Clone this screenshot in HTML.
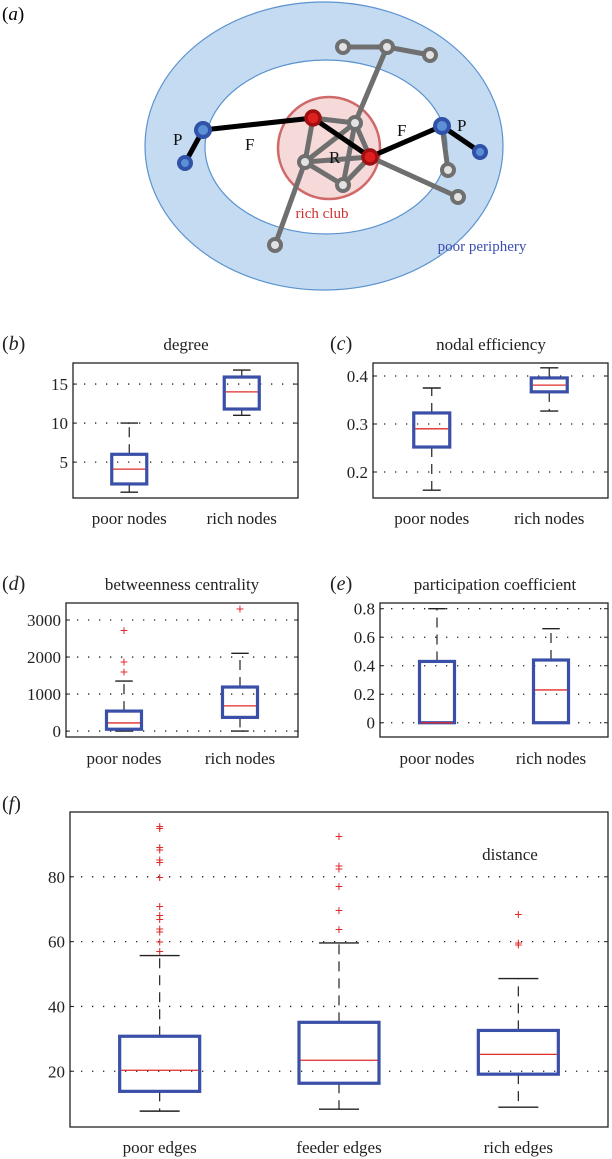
<!DOCTYPE html>
<html><head><meta charset="utf-8"><style>
html,body{margin:0;padding:0;background:#fff;}
svg{display:block;font-family:"Liberation Serif",serif;}
</style></head><body>
<svg id="fig" width="612" height="1159" viewBox="0 0 612 1159" xmlns="http://www.w3.org/2000/svg">
<g>
<text x="2" y="20" font-size="19">(<tspan font-style="italic">a</tspan>)</text>
<ellipse cx="324" cy="146" rx="179" ry="144" fill="#c5dbf1" stroke="#5b93cf" stroke-width="1.2"/>
<ellipse cx="326" cy="147" rx="121" ry="87" fill="#fff" stroke="#5b93cf" stroke-width="1.2"/>
<circle cx="329" cy="148" r="51" fill="#f6dada" stroke="#d06a6a" stroke-width="2.5"/>
<g stroke="#6f6f6f" stroke-width="5" stroke-linecap="round" fill="none">
<line x1="343" y1="47" x2="387" y2="47"/><line x1="387" y1="47" x2="430" y2="55"/><line x1="387" y1="47" x2="355" y2="123"/>
<line x1="313" y1="118" x2="355" y2="123"/><line x1="313" y1="118" x2="305" y2="162"/><line x1="305" y1="162" x2="355" y2="123"/>
<line x1="305" y1="162" x2="370" y2="157"/><line x1="305" y1="162" x2="343" y2="185"/><line x1="343" y1="185" x2="355" y2="123"/>
<line x1="343" y1="185" x2="370" y2="157"/><line x1="355" y1="123" x2="370" y2="157"/><line x1="305" y1="162" x2="275" y2="245"/>
<line x1="370" y1="157" x2="458" y2="197"/><line x1="442" y1="126" x2="448" y2="170"/>
</g>
<g stroke="#000" stroke-width="5" stroke-linecap="round">
<line x1="203" y1="130" x2="313" y2="118"/><line x1="203" y1="130" x2="185" y2="163"/><line x1="313" y1="118" x2="370" y2="157"/>
<line x1="370" y1="157" x2="442" y2="126"/><line x1="442" y1="126" x2="480" y2="152"/>
</g>
<g stroke="#6f6f6f" stroke-width="4" fill="#e2e2e2">
<circle cx="343" cy="47" r="6"/><circle cx="387" cy="47" r="6"/><circle cx="430" cy="55" r="6"/><circle cx="355" cy="123" r="6"/>
<circle cx="305" cy="162" r="6"/><circle cx="343" cy="185" r="6"/><circle cx="275" cy="245" r="6"/><circle cx="448" cy="170" r="6"/><circle cx="458" cy="197" r="6"/>
</g>
<g stroke="#3052a8" stroke-width="4" fill="#5b8fd6">
<circle cx="203" cy="130" r="7"/><circle cx="185" cy="163" r="6"/><circle cx="442" cy="126" r="7"/><circle cx="480" cy="152" r="6"/>
</g>
<g stroke="#a01010" stroke-width="3.5" fill="#e02020">
<circle cx="313" cy="118" r="7"/><circle cx="370" cy="157" r="7"/>
</g>
<g font-size="17" fill="#111">
<text x="173" y="145">P</text>
<text x="245" y="150">F</text>
<text x="329" y="163">R</text>
<text x="397" y="136">F</text>
<text x="457" y="131">P</text>
</g>
<text x="322" y="218" font-size="15" fill="#d03030" text-anchor="middle">rich club</text>
<text x="482" y="251" font-size="15" fill="#3a4fb0" text-anchor="middle">poor periphery</text>
</g>
</svg>
<script>
// Panel (b) degree
const degCats = ["poor nodes", "rich nodes"];
const degLow = [1.15, 11.0];
const degQ1 = [2.2, 11.8];
const degMed = [4.1, 14.0];
const degQ3 = [6.0, 15.9];
const degHigh = [10, 16.8];
const degOut = [[], []];
const degTicks = [5, 10, 15];
const degTickLabels = ["5", "10", "15"];
// Panel (c) nodal efficiency
const effCats = ["poor nodes", "rich nodes"];
const effLow = [0.162, 0.327];
const effQ1 = [0.252, 0.367];
const effMed = [0.290, 0.381];
const effQ3 = [0.323, 0.396];
const effHigh = [0.375, 0.417];
const effOut = [[], []];
const effTicks = [0.2, 0.3, 0.4];
const effTickLabels = ["0.2", "0.3", "0.4"];
// Panel (d) betweenness
const betCats = ["poor nodes", "rich nodes"];
const betLow = [0, 0];
const betQ1 = [50, 370];
const betMed = [220, 680];
const betQ3 = [540, 1190];
const betHigh = [1350, 2100];
const betOut = [[2720, 1860, 1600], [3300]];
const betTicks = [0, 1000, 2000, 3000];
const betTickLabels = ["0", "1000", "2000", "3000"];
// Panel (e) participation
const parCats = ["poor nodes", "rich nodes"];
const parLow = [0, 0];
const parQ1 = [0, 0];
const parMed = [0, 0.23];
const parQ3 = [0.43, 0.44];
const parHigh = [0.8, 0.66];
const parOut = [[], []];
const parTicks = [0, 0.2, 0.4, 0.6, 0.8];
const parTickLabels = ["0", "0.2", "0.4", "0.6", "0.8"];
// Panel (f) distance
const disCats = ["poor edges", "feeder edges", "rich edges"];
const disLow = [7.7, 8.3, 8.9];
const disQ1 = [13.8, 16.3, 19.1];
const disMed = [20.3, 23.4, 25.2];
const disQ3 = [30.8, 35.1, 32.6];
const disHigh = [55.7, 59.6, 48.6];
const disOut = [
  [95.5, 94.9, 89.1, 88.3, 85.2, 84.4, 79.8, 70.9, 68.1, 66.8, 63.9, 63.0, 59.9, 57.0],
  [92.4, 83.4, 82.4, 77.0, 69.6, 63.7],
  [68.4, 59.6, 58.9]
];
const disTicks = [20, 40, 60, 80];
const disTickLabels = ["20", "40", "60", "80"];

const NS = "http://www.w3.org/2000/svg";
const svg = document.getElementById("fig");
function mk(tag, attrs, parent) {
  const e = document.createElementNS(NS, tag);
  for (const k in attrs) e.setAttribute(k, attrs[k]);
  (parent || svg).appendChild(e);
  return e;
}

function panel(cfg) {
  const g = mk("g", {});
  
  
  const {x0, x1, y0, y1, vmin, vmax} = cfg;
  const yS = v => y1 - (v - vmin) / (vmax - vmin) * (y1 - y0);
  const n = cfg.cats.length;
  const xS = i => x0 + (x1 - x0) * (i + 0.5) / n;
  cfg.ticks.forEach((t, i) => {
    const y = yS(t);
    const gl = mk("line", {x1: x0, x2: x1, y1: y, y2: y, stroke: "#222", "stroke-width": 1.3, "stroke-dasharray": "1.3 9.7"}, g);
    
    
    mk("line", {x1: x0, x2: x0 + 4, y1: y, y2: y, stroke: "#222", "stroke-width": 1}, g);
    mk("line", {x1: x1, x2: x1 - 4, y1: y, y2: y, stroke: "#222", "stroke-width": 1}, g);
    const tl = mk("text", {x: x0 - 5, y: y + 6, "font-size": cfg.fs || 17, "text-anchor": "end", fill: "#222"}, g);
    tl.textContent = cfg.tickLabels[i];
    
    
  });
  const bw = cfg.bw;
  for (let i = 0; i < n; i++) {
    const cx = xS(i);
    const bg = mk("g", {}, g);
    
    
    if (cfg.high[i] > cfg.q3[i]) mk("line", {x1: cx, x2: cx, y1: yS(cfg.q3[i]), y2: yS(cfg.high[i]), stroke: "#222", "stroke-width": 1.2, "stroke-dasharray": "10 7"}, bg);
    if (cfg.low[i] < cfg.q1[i]) mk("line", {x1: cx, x2: cx, y1: yS(cfg.q1[i]), y2: yS(cfg.low[i]), stroke: "#222", "stroke-width": 1.2, "stroke-dasharray": "10 7"}, bg);
    mk("line", {x1: cx - bw / 4, x2: cx + bw / 4, y1: yS(cfg.high[i]), y2: yS(cfg.high[i]), stroke: "#222", "stroke-width": 1.4}, bg);
    if (cfg.low[i] < cfg.q1[i]) mk("line", {x1: cx - bw / 4, x2: cx + bw / 4, y1: yS(cfg.low[i]), y2: yS(cfg.low[i]), stroke: "#222", "stroke-width": 1.4}, bg);
    const r = mk("rect", {x: cx - bw / 2, y: yS(cfg.q3[i]), width: bw, height: Math.max(0.5, yS(cfg.q1[i]) - yS(cfg.q3[i])), fill: "none", stroke: "#3a4fa8", "stroke-width": 3.2}, bg);
    
    
    const m = mk("line", {x1: cx - bw / 2 + 1.5, x2: cx + bw / 2 - 1.5, y1: yS(cfg.med[i]), y2: yS(cfg.med[i]), stroke: "#e02a2a", "stroke-width": 1.3}, bg);
    
    
    cfg.out[i].forEach(v => {
      const o = mk("text", {x: cx, y: yS(v) + 4.5, "font-size": 14, "font-family": "Liberation Sans, sans-serif", fill: "#e02a2a", "text-anchor": "middle"}, bg);
      o.textContent = "+";
      
      
    });
    const xl = mk("text", {x: cx, y: cfg.xly, "font-size": 17, "text-anchor": "middle", fill: "#222"}, g);
    xl.textContent = cfg.cats[i];
    
    
  }
  const fr = mk("rect", {x: x0, y: y0, width: x1 - x0, height: y1 - y0, fill: "none", stroke: "#222", "stroke-width": 1.3}, g);
  
  
  if (cfg.title) {
    const t = mk("text", {x: cfg.tx, y: cfg.ty, "font-size": 17, "text-anchor": "middle", fill: "#222"}, g);
    t.textContent = cfg.title;
    
    
  }
  const pl = mk("text", {x: cfg.lx, y: cfg.ly, "font-size": 20, fill: "#222"}, g);
  pl.innerHTML = '(<tspan font-style="italic">' + cfg.letter + '</tspan>)';
  
  
}

panel({name: "panel-b-degree", x0: 73, x1: 298, y0: 363, y1: 498, vmin: 0.4, vmax: 17.7, cats: degCats, low: degLow, q1: degQ1, med: degMed, q3: degQ3, high: degHigh, out: degOut, ticks: degTicks, tickLabels: degTickLabels, bw: 35, xly: 524, title: "degree", tx: 186, ty: 350, letter: "b", lx: 2, ly: 350});
panel({name: "panel-c-efficiency", x0: 373, x1: 608, y0: 363, y1: 498, vmin: 0.1458, vmax: 0.4271, cats: effCats, low: effLow, q1: effQ1, med: effMed, q3: effQ3, high: effHigh, out: effOut, ticks: effTicks, tickLabels: effTickLabels, bw: 36, xly: 524, title: "nodal efficiency", tx: 491, ty: 350, letter: "c", lx: 330, ly: 350});
panel({name: "panel-d-betweenness", x0: 66, x1: 298, y0: 603, y1: 737, vmin: -160, vmax: 3460, cats: betCats, low: betLow, q1: betQ1, med: betMed, q3: betQ3, high: betHigh, out: betOut, ticks: betTicks, tickLabels: betTickLabels, bw: 35, xly: 764, title: "betweenness centrality", tx: 182, ty: 590, letter: "d", lx: 2, ly: 590});
panel({name: "panel-e-participation", x0: 380, x1: 608, y0: 603, y1: 737, vmin: -0.1, vmax: 0.84, cats: parCats, low: parLow, q1: parQ1, med: parMed, q3: parQ3, high: parHigh, out: parOut, ticks: parTicks, tickLabels: parTickLabels, bw: 35, xly: 764, title: "participation coefficient", tx: 495, ty: 590, letter: "e", lx: 330, ly: 590});
panel({name: "panel-f-distance", x0: 70, x1: 608, y0: 812, y1: 1127, vmin: 2.8, vmax: 100, cats: disCats, low: disLow, q1: disQ1, med: disMed, q3: disQ3, high: disHigh, out: disOut, ticks: disTicks, tickLabels: disTickLabels, bw: 80, xly: 1153, title: "distance", tx: 510, ty: 860, letter: "f", lx: 2, ly: 810});
</script>
</body></html>
